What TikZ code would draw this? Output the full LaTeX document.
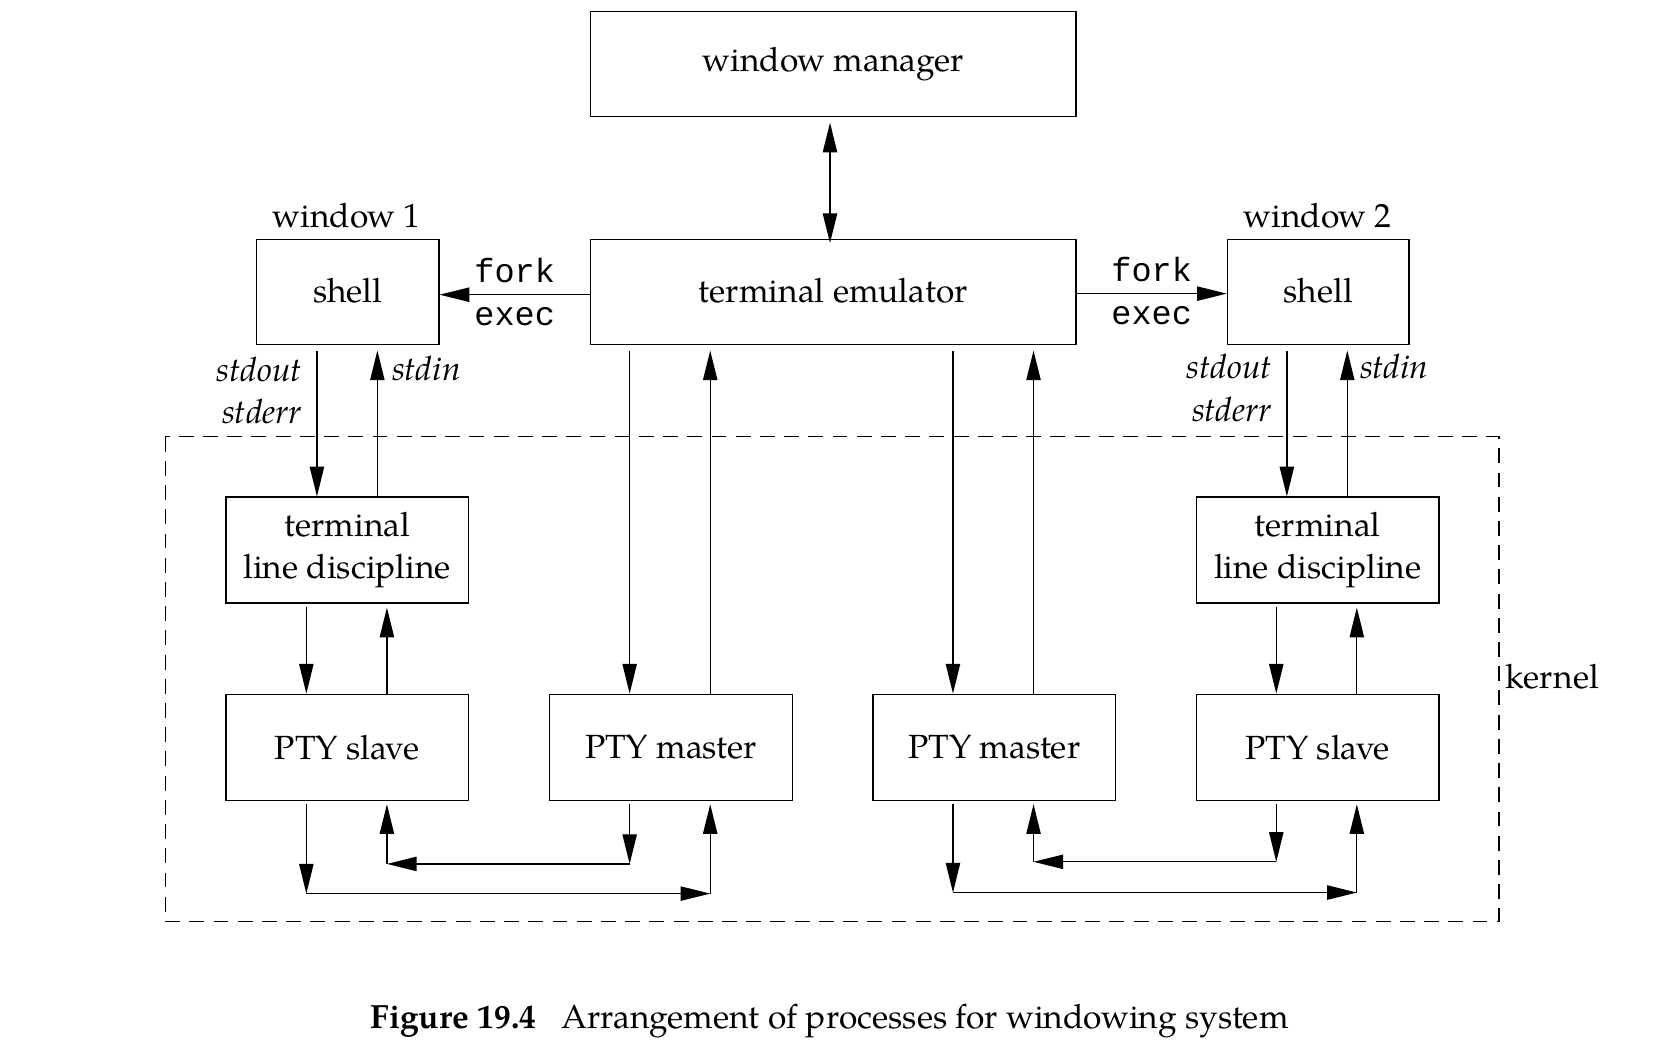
\documentclass[tikz,border=0pt]{standalone}
\usepackage{fontspec}
\setmainfont{TeX Gyre Pagella}
\setmonofont{Liberation Mono}
\usetikzlibrary{arrows.meta}
\newcommand\dgmfont{\fontsize{18}{22.7}\selectfont}
\newcommand\dgmmono{\fontsize{18}{22.7}\selectfont\ttfamily}
\begin{document}
\begin{tikzpicture}[x=0.02cm,y=-0.02cm,
  font=\dgmfont,
  box/.style={draw, line width=0.8pt, minimum width=4.58cm, minimum height=2cm, inner sep=0pt, align=center},
  arr/.style={line width=0.7pt, -{Triangle[length=0.56cm, width=0.27cm]}},
  darr/.style={line width=0.7pt, {Triangle[length=0.56cm, width=0.27cm]}-{Triangle[length=0.56cm, width=0.27cm]}},
  kernelbox/.style={draw, line width=0.7pt, dash pattern=on 8pt off 5pt}
]
\useasboundingbox (0,0) rectangle (1566,992.5);

% boxes
\node[box, minimum width=9.16cm, minimum height=1.98cm] (wm) at (786,60.5) {window manager};
\node[box, minimum width=9.16cm, minimum height=1.98cm] (te) at (786,275.5) {\raisebox{0.06cm}{terminal emulator}};
\node[box, minimum width=3.44cm, minimum height=1.98cm] (sh1) at (328,275.5) {\raisebox{0.06cm}{shell}};
\node[box, minimum width=3.42cm, minimum height=1.98cm] (sh2) at (1243.5,275.5) {\raisebox{0.06cm}{shell}};
\node[box] (tld1) at (327.5,519) {terminal\\line discipline};
\node[box] (tld2) at (1243,519) {terminal\\line discipline};
\node[box] (ps1) at (327.5,705) {PTY slave};
\node[box] (pm1) at (633,705) {PTY master};
\node[box] (pm2) at (938,705) {PTY master};
\node[box] (ps2) at (1243,705) {PTY slave};

% kernel region
\draw[kernelbox] (156,412) rectangle (1414,869);
\node[anchor=west] (kern) at (1414,638) {kernel};

% labels
\node (w1) at (327,203) {window 1};
\node (w2) at (1243,203) {window 2};
\node[anchor=east, align=right, font=\dgmfont\itshape] (so1) at (291,368) {stdout\\stderr};
\node[anchor=west, font=\dgmfont\itshape] (si1) at (364,348) {stdin};
\node[anchor=east, align=right, font=\dgmfont\itshape] (so2) at (1206,366) {stdout\\stderr};
\node[anchor=west, font=\dgmfont\itshape] (si2) at (1277,346) {stdin};

% column / row coordinates
\coordinate (w) at (783,0);
\coordinate (a1) at (299,0);
\coordinate (a2) at (356,0);
\coordinate (b1) at (289,0);
\coordinate (b2) at (365,0);
\coordinate (m1) at (594,0);
\coordinate (m2) at (670,0);
\coordinate (m3) at (899,0);
\coordinate (m4) at (975,0);
\coordinate (a3) at (1214,0);
\coordinate (a4) at (1271,0);
\coordinate (b3) at (1204,0);
\coordinate (b4) at (1280,0);
\coordinate (r1) at (0,843);
\coordinate (r2) at (0,815);
\coordinate (r3) at (0,842);
\coordinate (r4) at (0,813);
\coordinate (f1) at (0,278);
\coordinate (f2) at (0,277);

% window manager <-> terminal emulator
\draw[darr, shorten <=0.1cm, shorten >=-0.08cm] (wm.south -| w) -- (te.north -| w);

% fork/exec
\draw[arr] (te.west |- f1) -- (sh1.east |- f1)
  node[midway, above=0.09cm, font=\dgmmono] {fork}
  node[midway, below=0.11cm, font=\dgmmono] {exec};
\draw[arr] (te.east |- f2) -- (sh2.west |- f2)
  node[midway, above=0.09cm, font=\dgmmono] {fork}
  node[midway, below=0.11cm, font=\dgmmono] {exec};

% shell <-> terminal line discipline
\draw[arr, shorten <=0.1cm] (sh1.south -| a1) -- (tld1.north -| a1);
\draw[arr, shorten >=0.1cm] (tld1.north -| a2) -- (sh1.south -| a2);
\draw[arr, shorten <=0.1cm] (sh2.south -| a3) -- (tld2.north -| a3);
\draw[arr, shorten >=0.1cm] (tld2.north -| a4) -- (sh2.south -| a4);

% line discipline <-> PTY slave
\draw[arr, shorten <=0.05cm] (tld1.south -| b1) -- (ps1.north -| b1);
\draw[arr, shorten >=0.07cm] (ps1.north -| b2) -- (tld1.south -| b2);
\draw[arr, shorten <=0.05cm] (tld2.south -| b3) -- (ps2.north -| b3);
\draw[arr, shorten >=0.07cm] (ps2.north -| b4) -- (tld2.south -| b4);

% terminal emulator <-> PTY masters
\draw[arr, shorten <=0.1cm] (te.south -| m1) -- (pm1.north -| m1);
\draw[arr, shorten >=0.1cm] (pm1.north -| m2) -- (te.south -| m2);
\draw[arr, shorten <=0.1cm] (te.south -| m3) -- (pm2.north -| m3);
\draw[arr, shorten >=0.1cm] (pm2.north -| m4) -- (te.south -| m4);

% bottom connections, left pair
\coordinate (c1) at (b1 |- r1);
\coordinate (c2) at (m2 |- r1);
\coordinate (c3) at (m1 |- r2);
\coordinate (c4) at (b2 |- r2);
\draw[arr, shorten <=0.06cm] (ps1.south -| b1) -- (c1);
\draw[arr] (c1) -- (c2);
\draw[arr, shorten >=0.06cm] (c2) -- (pm1.south -| m2);
\draw[arr, shorten <=0.06cm] (pm1.south -| m1) -- (c3);
\draw[arr] (c3) -- (c4);
\draw[arr, shorten >=0.06cm] (c4) -- (ps1.south -| b2);

% bottom connections, right pair
\coordinate (c5) at (m3 |- r3);
\coordinate (c6) at (b4 |- r3);
\coordinate (c7) at (b3 |- r4);
\coordinate (c8) at (m4 |- r4);
\draw[arr, shorten <=0.06cm] (pm2.south -| m3) -- (c5);
\draw[arr] (c5) -- (c6);
\draw[arr, shorten >=0.06cm] (c6) -- (ps2.south -| b4);
\draw[arr, shorten <=0.06cm] (ps2.south -| b3) -- (c7);
\draw[arr] (c7) -- (c8);
\draw[arr, shorten >=0.06cm] (c8) -- (pm2.south -| m4);

% caption
\node (cap) at (782.5,963) {\textbf{Figure 19.4}\hspace{0.75em}Arrangement of processes for windowing system};
\end{tikzpicture}
\end{document}
